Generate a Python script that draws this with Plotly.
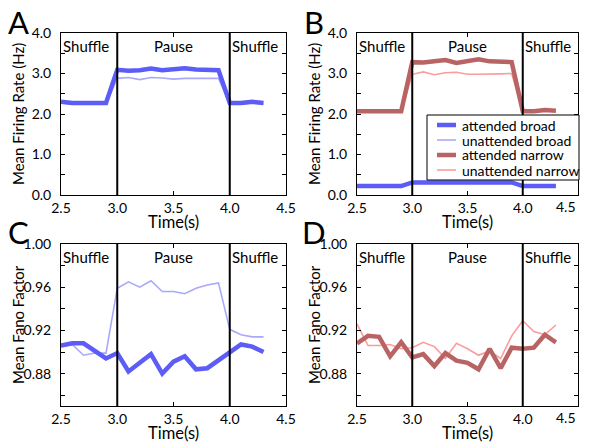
import plotly.graph_objects as go

# time bins (s)
time_s = [2.5, 2.6, 2.7, 2.8, 2.9, 3.0, 3.1, 3.2, 3.3, 3.4,
          3.5, 3.6, 3.7, 3.8, 3.9, 4.0, 4.1, 4.2, 4.3]

# mean firing rate (Hz)
rate_att_broad = [2.30, 2.27, 2.27, 2.27, 2.27, 3.09, 3.07, 3.08, 3.12, 3.08,
                  3.10, 3.13, 3.10, 3.10, 3.08, 2.27, 2.27, 2.30, 2.27]
rate_unatt_broad = [2.27, 2.25, 2.25, 2.25, 2.25, 2.88, 2.90, 2.85, 2.90, 2.89,
                    2.86, 2.88, 2.88, 2.88, 2.88, 2.25, 2.25, 2.27, 2.25]
rate_att_narrow = [2.07, 2.07, 2.07, 2.07, 2.07, 3.28, 3.27, 3.30, 3.33, 3.26,
                   3.31, 3.35, 3.30, 3.30, 3.28, 2.07, 2.07, 2.10, 2.08]
rate_unatt_narrow = [2.05, 2.05, 2.05, 2.05, 2.05, 2.98, 3.04, 2.97, 3.02, 3.03,
                     2.98, 2.98, 2.98, 2.99, 3.00, 2.05, 2.05, 2.09, 2.06]
rate_att_broad_b = [0.22, 0.22, 0.22, 0.22, 0.22, 0.31, 0.31, 0.31, 0.31, 0.31,
                    0.31, 0.31, 0.31, 0.31, 0.31, 0.22, 0.22, 0.22, 0.22]
rate_unatt_broad_b = [0.24, 0.24, 0.24, 0.24, 0.24, 0.33, 0.33, 0.33, 0.33, 0.33,
                      0.33, 0.33, 0.33, 0.33, 0.33, 0.24, 0.24, 0.24, 0.24]

# mean Fano factor
fano_att_broad = [0.906, 0.908, 0.908, 0.901, 0.894, 0.899, 0.882, 0.890, 0.898, 0.880,
                  0.891, 0.896, 0.884, 0.885, 0.892, 0.900, 0.907, 0.905, 0.900]
fano_unatt_broad = [0.905, 0.907, 0.897, 0.899, 0.899, 0.959, 0.965, 0.960, 0.966, 0.956,
                    0.956, 0.954, 0.959, 0.962, 0.964, 0.921, 0.916, 0.914, 0.914]
fano_att_narrow = [0.908, 0.915, 0.914, 0.896, 0.909, 0.895, 0.898, 0.887, 0.899, 0.892,
                   0.890, 0.884, 0.903, 0.885, 0.904, 0.903, 0.904, 0.916, 0.909]
fano_unatt_narrow = [0.926, 0.906, 0.906, 0.907, 0.903, 0.904, 0.909, 0.905, 0.894, 0.908,
                     0.903, 0.897, 0.901, 0.894, 0.915, 0.929, 0.919, 0.916, 0.925]

epoch_labels = ["Shuffle", "Pause", "Shuffle"]
epoch_bounds = [3.0, 4.0]
panel_letters = ["A", "B", "C", "D"]
x_ticks = [2.5, 3.0, 3.5, 4.0, 4.5]

ATT_BROAD = "#5c5cf6"
UNATT_BROAD = "#a9a9fc"
ATT_NARROW = "#b96464"
UNATT_NARROW = "#fc9c9c"
THICK, THIN = 4.5, 1.6
FONT = "Lato"

series_styles = [("attended broad", ATT_BROAD, THICK),
                 ("unattended broad", UNATT_BROAD, THIN),
                 ("attended narrow", ATT_NARROW, THICK),
                 ("unattended narrow", UNATT_NARROW, THIN)]

# the page body has an 8px margin, so the figure is drawn 8px in from the corner
PAGE_W, PAGE_H, OFF = 589, 442, 8
W, H = PAGE_W - 2 * OFF, PAGE_H - OFF


def px(x):
    return (x - OFF) / W


def py(y):
    return 1 - (y - OFF) / H


# plot-area boxes in page pixels: (left, right, top, bottom)
boxes = {
    1: (61, 286, 33, 195),
    2: (357, 578, 33, 195),
    3: (61, 286, 244, 406),
    4: (357, 578, 244, 406),
}

fig = go.Figure()


def line(x, y, color, width, idx):
    sfx = "" if idx == 1 else str(idx)
    fig.add_trace(go.Scatter(
        x=x, y=y, mode="lines", line={"color": color, "width": width},
        xaxis="x" + sfx, yaxis="y" + sfx, showlegend=False,
    ))


line(time_s, rate_unatt_broad, UNATT_BROAD, THIN, 1)
line(time_s, rate_att_broad, ATT_BROAD, THICK, 1)

line(time_s, rate_unatt_broad_b, UNATT_BROAD, THIN, 2)
line(time_s, rate_att_broad_b, ATT_BROAD, THICK, 2)
line(time_s, rate_unatt_narrow, UNATT_NARROW, THIN, 2)
line(time_s, rate_att_narrow, ATT_NARROW, THICK, 2)

line(time_s, fano_unatt_broad, UNATT_BROAD, THIN, 3)
line(time_s, fano_att_broad, ATT_BROAD, THICK, 3)

line(time_s, fano_unatt_narrow, UNATT_NARROW, THIN, 4)
line(time_s, fano_att_narrow, ATT_NARROW, THICK, 4)

layout = {}
annotations = []
shapes = []
tick_font = {"size": 14, "color": "black", "family": FONT}
label_font = {"size": 15, "color": "black", "family": FONT}
for idx, (l, r, t, b) in boxes.items():
    sfx = "" if idx == 1 else str(idx)
    xa, ya = "x" + sfx, "y" + sfx
    top_row = idx in (1, 2)
    right_col = idx in (2, 4)
    # the right column's last x label sits inside the page edge
    tick_text = [f"{v:.1f}" for v in x_ticks]
    if right_col:
        tick_text[-1] = ""
    layout["xaxis" + sfx] = dict(
        domain=[px(l), px(r)], anchor=ya, range=[2.5, 4.5],
        tickvals=x_ticks, ticktext=tick_text, automargin=False,
        ticks="inside", ticklen=4, tickcolor="black",
        showline=True, linecolor="black", linewidth=1, mirror="ticks",
        showgrid=False, zeroline=False, tickfont=tick_font,
    )
    if right_col:
        annotations.append(dict(text=f"{x_ticks[-1]:.1f}", xref=xa, yref=ya + " domain",
                                x=x_ticks[-1], y=0, xanchor="right", yanchor="top",
                                yshift=-1, showarrow=False, font=tick_font))
    if top_row:
        yopts = dict(range=[0, 4], dtick=1.0, tickformat=".1f",
                     minor={"dtick": 0.5, "ticks": "inside", "ticklen": 4,
                            "tickcolor": "black"})
        ytitle = "Mean Firing Rate (Hz)"
    else:
        yopts = dict(range=[0.85, 1.0], tick0=0.88, dtick=0.04, tickformat=".2f",
                     minor={"dtick": 0.02, "tick0": 0.86, "ticks": "inside",
                            "ticklen": 4, "tickcolor": "black"})
        ytitle = "Mean Fano Factor"
    layout["yaxis" + sfx] = dict(
        domain=[py(b), py(t)], anchor=xa, automargin=False,
        ticks="inside", ticklen=4, tickcolor="black", ticklabelstandoff=6,
        showline=True, linecolor="black", linewidth=1, mirror="ticks",
        showgrid=False, zeroline=False, tickfont=tick_font,
        **yopts,
    )

    # axis titles
    annotations.append(dict(text="Time(s)", xref="paper", yref="paper",
                            x=px((l + r) / 2), y=py(b + 27),
                            xanchor="center", yanchor="middle", showarrow=False,
                            font={"size": 16.5, "color": "black", "family": FONT}))
    annotations.append(dict(text=ytitle, xref="paper", yref="paper",
                            x=px(l - 43), y=py((t + b) / 2), textangle=-90,
                            xanchor="center", yanchor="middle", showarrow=False,
                            font=label_font))

    for xb in epoch_bounds:
        shapes.append(dict(type="line", xref=xa, yref=ya + " domain",
                           x0=xb, x1=xb, y0=0, y1=1,
                           line={"color": "black", "width": 2}))
    for text, xpos, anchor in [(epoch_labels[0], 2.5, "left"),
                               (epoch_labels[1], 3.5, "center"),
                               (epoch_labels[2], 4.0, "left")]:
        annotations.append(dict(text=text, xref=xa, yref=ya + " domain",
                                x=xpos, y=0.99, xanchor=anchor, yanchor="top",
                                showarrow=False, font=label_font))

    annotations.append(dict(text=panel_letters[idx - 1], xref="paper", yref="paper",
                            x=px(l - 43), y=py(t - 11.5),
                            xanchor="center", yanchor="middle", showarrow=False,
                            font={"size": 31, "color": "black", "family": FONT}))

# legend box in panel B
leg_l, leg_r, leg_t, leg_b = 427, 579, 115, 180
shapes.append(dict(type="rect", xref="paper", yref="paper", layer="above",
                   x0=px(leg_l), x1=px(leg_r), y0=py(leg_b), y1=py(leg_t),
                   line={"color": "black", "width": 1}, fillcolor="white"))
for i, (name, color, width) in enumerate(series_styles):
    row_y = leg_t + 10 + 15 * i
    shapes.append(dict(type="line", xref="paper", yref="paper", layer="above",
                       x0=px(leg_l + 10), x1=px(leg_l + 29), y0=py(row_y), y1=py(row_y),
                       line={"color": color, "width": width}))
    annotations.append(dict(text=name, xref="paper", yref="paper",
                            x=px(leg_l + 33), y=py(row_y), xanchor="left",
                            yanchor="middle", showarrow=False,
                            font={"size": 14, "color": "black", "family": FONT}))

fig.update_layout(
    **layout,
    width=W, height=H,
    margin={"l": 0, "r": 0, "t": 0, "b": 0},
    paper_bgcolor="white", plot_bgcolor="white",
    shapes=shapes, annotations=annotations,
    font={"family": FONT, "color": "black"},
    showlegend=False,
)

fig.write_html("out.html")
